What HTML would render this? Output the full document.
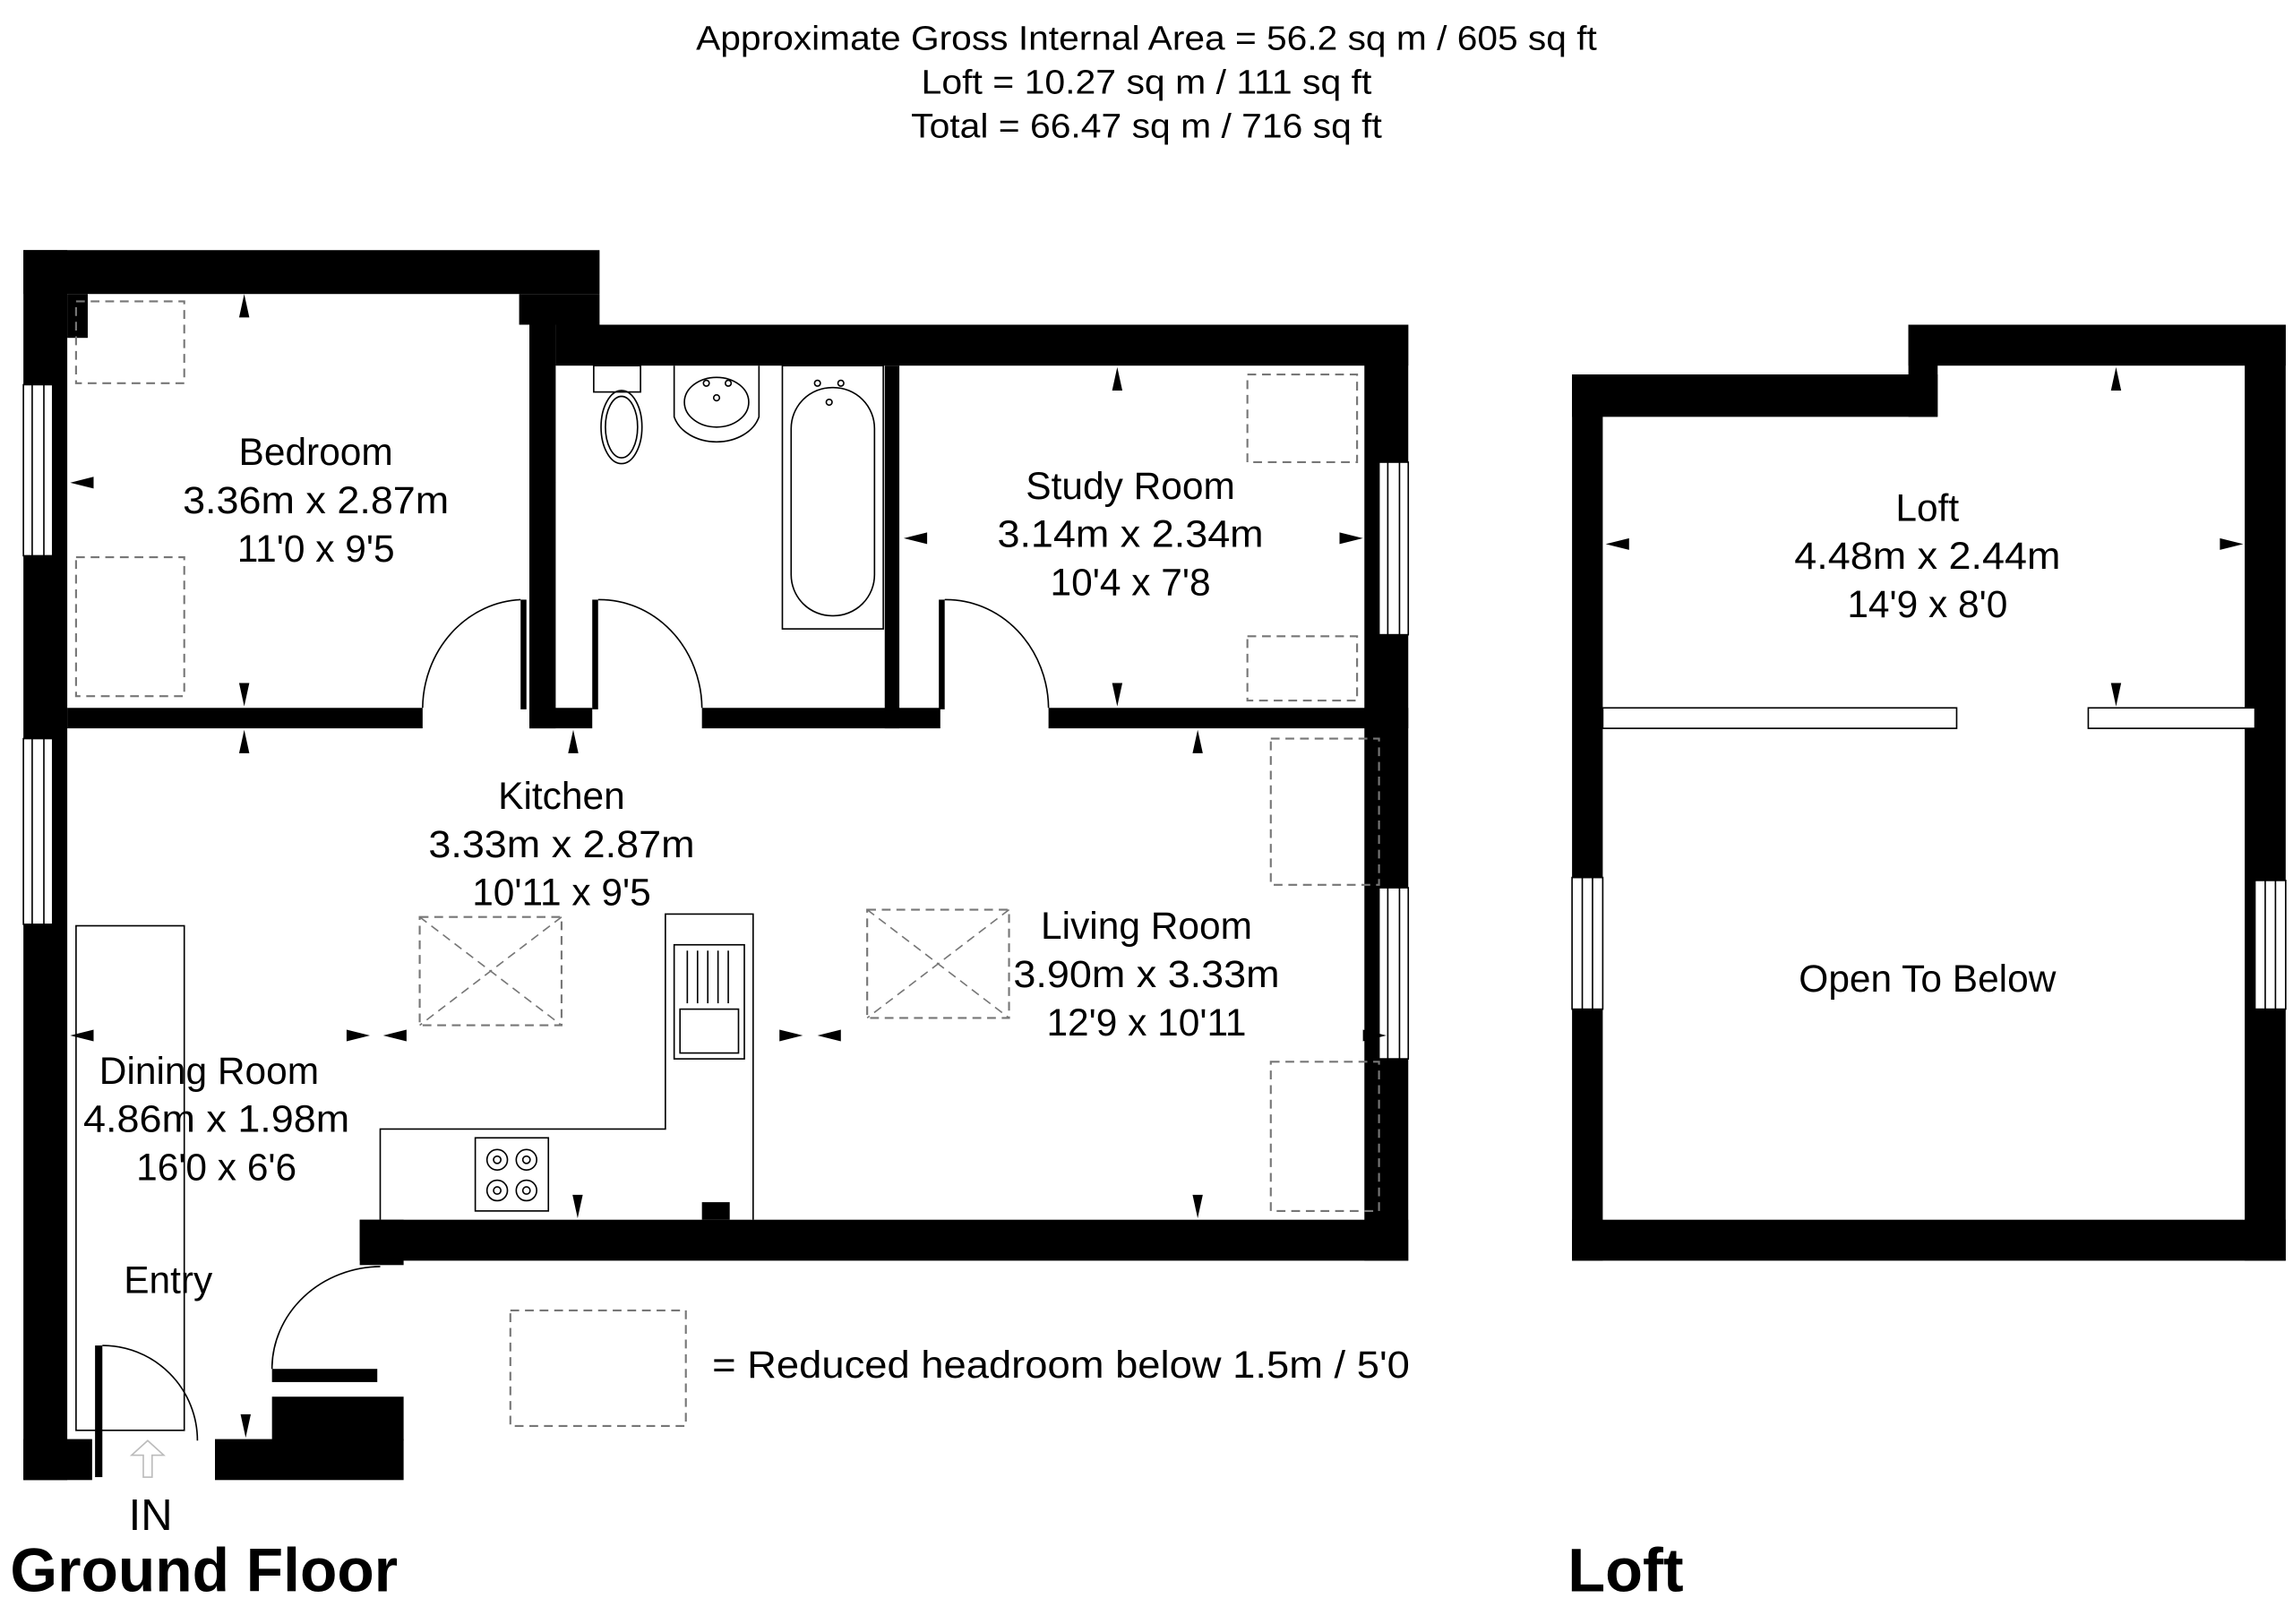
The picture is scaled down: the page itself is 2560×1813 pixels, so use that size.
<!DOCTYPE html>
<html><head><meta charset="utf-8"><style>
html,body{margin:0;padding:0;background:#fff;}
svg{display:block;}
text{font-family:"Liberation Sans",Arial,sans-serif;fill:#000;}
</style></head><body>
<svg width="2560" height="1813" viewBox="0 0 1568 1110.4" xmlns="http://www.w3.org/2000/svg">
<rect width="1568" height="1111" fill="#fff"/>
<g font-size="23.5" text-anchor="middle">
<text x="784" y="34" textLength="616" lengthAdjust="spacingAndGlyphs">Approximate Gross Internal Area = 56.2 sq m / 605 sq ft</text>
<text x="784" y="64" textLength="308" lengthAdjust="spacingAndGlyphs">Loft = 10.27 sq m / 111 sq ft</text>
<text x="784" y="94" textLength="322" lengthAdjust="spacingAndGlyphs">Total = 66.47 sq m / 716 sq ft</text>
</g>
<g fill="#000">
<rect x="16" y="171" width="394" height="30"/>
<rect x="16" y="171" width="30" height="841"/>
<rect x="46" y="201" width="14" height="30"/>
<rect x="355" y="201" width="55" height="21"/>
<rect x="380" y="222" width="583" height="28"/>
<rect x="933" y="222" width="30" height="640"/>
<rect x="362" y="222" width="18" height="276"/>
<rect x="362" y="484" width="43" height="14"/>
<rect x="605" y="250" width="10" height="248"/>
<rect x="46" y="484" width="243" height="14"/>
<rect x="480" y="484" width="163" height="14"/>
<rect x="717" y="484" width="246" height="14"/>
<rect x="246" y="834" width="717" height="28"/>
<rect x="246" y="834" width="30" height="31"/>
<rect x="16" y="984" width="47" height="28"/>
<rect x="147" y="984" width="129" height="28"/>
<rect x="186" y="955" width="90" height="30"/>
<rect x="186" y="936" width="72" height="9"/>
<rect x="65" y="920" width="5" height="90"/>
<rect x="480" y="822" width="19" height="12"/>
</g>
<g fill="#000"><rect x="356" y="410" width="4" height="75"/><rect x="405" y="410" width="4" height="75"/><rect x="642" y="410" width="4" height="75"/></g>
<g fill="#fff" stroke="#000" stroke-width="1">
<rect x="16" y="263" width="20" height="117"/><line x1="22" y1="263" x2="22" y2="380"/><line x1="30" y1="263" x2="30" y2="380"/>
<rect x="16" y="505" width="20" height="127"/><line x1="22" y1="505" x2="22" y2="632"/><line x1="30" y1="505" x2="30" y2="632"/>
<rect x="943" y="316" width="20" height="118"/><line x1="949" y1="316" x2="949" y2="434"/><line x1="957" y1="316" x2="957" y2="434"/>
<rect x="943" y="607" width="20" height="117"/><line x1="949" y1="607" x2="949" y2="724"/><line x1="957" y1="607" x2="957" y2="724"/>
</g>
<g fill="none" stroke="#000" stroke-width="1">
<path d="M289 484 A70 75 0 0 1 356 410"/>
<path d="M480 484 A70 75 0 0 0 409 410"/>
<path d="M717 484 A70 75 0 0 0 646 410"/>
<path d="M70 920 A65 65 0 0 1 135 985"/>
<path d="M186 936 A75 70 0 0 1 260 866"/>
</g>
<g fill="none" stroke="#000" stroke-width="1">
<rect x="406" y="250" width="32" height="18"/>
<ellipse cx="425" cy="292" rx="14" ry="25"/><ellipse cx="425" cy="292" rx="11" ry="21"/>
<path d="M461 250 V285 A30 23 0 0 0 519 285 V250"/><ellipse cx="490" cy="275" rx="22" ry="17"/>
<circle cx="483" cy="262" r="2"/><circle cx="498" cy="262" r="2"/><circle cx="490" cy="272" r="2"/>
<rect x="535" y="250" width="69" height="180"/><rect x="541" y="265" width="57" height="156" rx="28"/>
<circle cx="559" cy="262" r="2"/><circle cx="575" cy="262" r="2"/><circle cx="567" cy="275" r="2"/>
</g>
<g fill="none" stroke="#000" stroke-width="1">
<rect x="52" y="633" width="74" height="345"/>
<path d="M260 834 V772 H455 V625 H515 V834"/>
<rect x="461" y="646" width="48" height="78"/><rect x="465" y="690" width="40" height="30"/>
<line x1="470" y1="650" x2="470" y2="686"/><line x1="477" y1="650" x2="477" y2="686"/><line x1="484" y1="650" x2="484" y2="686"/><line x1="491" y1="650" x2="491" y2="686"/><line x1="498" y1="650" x2="498" y2="686"/>
<rect x="325" y="778" width="50" height="50"/>
<circle cx="340" cy="793" r="7"/><circle cx="360" cy="793" r="7"/><circle cx="340" cy="814" r="7"/><circle cx="360" cy="814" r="7"/>
<circle cx="340" cy="793" r="2.5"/><circle cx="360" cy="793" r="2.5"/><circle cx="340" cy="814" r="2.5"/><circle cx="360" cy="814" r="2.5"/>
</g>
<g fill="none" stroke="#777" stroke-width="1.3" stroke-dasharray="6,4">
<rect x="52" y="206" width="74" height="56"/>
<rect x="52" y="381" width="74" height="95"/>
<rect x="853" y="256" width="75" height="60"/>
<rect x="853" y="435" width="75" height="44"/>
<rect x="869" y="505" width="74" height="100"/>
<rect x="869" y="726" width="74" height="102"/>
<rect x="287" y="627" width="97" height="74"/>
<rect x="593" y="622" width="97" height="74"/>
<rect x="349" y="896" width="120" height="79"/>
</g>
<g stroke="#777" stroke-width="1" stroke-dasharray="6,4">
<line x1="287" y1="627" x2="384" y2="701"/><line x1="384" y1="627" x2="287" y2="701"/>
<line x1="593" y1="622" x2="690" y2="696"/><line x1="690" y1="622" x2="593" y2="696"/>
</g>
<g fill="#000">
<path d="M167 201 l-3.5 16 h7z"/><path d="M167 483 l-3.5 -16 h7z"/>
<path d="M48 330 l16 -4 v8z"/><path d="M380 330 l-16 -4 v8z"/>
<path d="M167 499 l-3.5 16 h7z"/><path d="M392 499 l-3.5 16 h7z"/>
<path d="M764 251 l-3.5 16 h7z"/><path d="M764 483 l-3.5 -16 h7z"/>
<path d="M618 368 l16 -4 v8z"/><path d="M932 368 l-16 -4 v8z"/>
<path d="M819 499 l-3.5 16 h7z"/><path d="M819 833 l-3.5 -16 h7z"/>
<path d="M395 833 l-3.5 -16 h7z"/>
<path d="M262 708 l16 -4 v8z"/><path d="M253 708 l-16 -4 v8z"/>
<path d="M559 708 l16 -4 v8z"/><path d="M549 708 l-16 -4 v8z"/>
<path d="M948 708 l-16 -4 v8z"/><path d="M48 708 l16 -4 v8z"/>
<path d="M168 983 l-3.5 -16 h7z"/>
</g>
<path d="M98 1010 V995 H90 L101 985 L112 995 H104 V1010Z" fill="none" stroke="#bbb" stroke-width="1"/>
<g font-size="26" text-anchor="middle">
<text x="216" y="318">Bedroom</text><text x="216" y="351" textLength="182" lengthAdjust="spacingAndGlyphs">3.36m x 2.87m</text><text x="216" y="384">11'0 x 9'5</text>
<text x="773" y="341">Study Room</text><text x="773" y="374" textLength="182" lengthAdjust="spacingAndGlyphs">3.14m x 2.34m</text><text x="773" y="407">10'4 x 7'8</text>
<text x="384" y="553">Kitchen</text><text x="384" y="586" textLength="182" lengthAdjust="spacingAndGlyphs">3.33m x 2.87m</text><text x="384" y="619">10'11 x 9'5</text>
<text x="784" y="642">Living Room</text><text x="784" y="675" textLength="182" lengthAdjust="spacingAndGlyphs">3.90m x 3.33m</text><text x="784" y="708">12'9 x 10'11</text>
<text x="143" y="741">Dining Room</text><text x="148" y="774" textLength="182" lengthAdjust="spacingAndGlyphs">4.86m x 1.98m</text><text x="148" y="807">16'0 x 6'6</text>
<text x="115" y="884">Entry</text>
<text x="103" y="1046" font-size="30">IN</text>
<text x="1318" y="356">Loft</text><text x="1318" y="389" textLength="182" lengthAdjust="spacingAndGlyphs">4.48m x 2.44m</text><text x="1318" y="422">14'9 x 8'0</text>
<text x="1318" y="678">Open To Below</text>
</g>
<text x="487" y="942" font-size="26" textLength="477" lengthAdjust="spacingAndGlyphs">= Reduced headroom below 1.5m / 5'0</text>
<text x="7" y="1088" font-size="42" font-weight="bold" textLength="265" lengthAdjust="spacingAndGlyphs">Ground Floor</text>
<text x="1072" y="1088" font-size="42" font-weight="bold">Loft</text>
<g fill="#000">
<rect x="1075" y="256" width="250" height="29"/>
<rect x="1305" y="222" width="20" height="63"/>
<rect x="1305" y="222" width="258" height="28"/>
<rect x="1535" y="222" width="28" height="640"/>
<rect x="1075" y="834" width="488" height="28"/>
<rect x="1075" y="256" width="21" height="606"/>
</g>
<g fill="#fff" stroke="#000" stroke-width="1">
<rect x="1075" y="600" width="21" height="90"/><line x1="1082" y1="600" x2="1082" y2="690"/><line x1="1089" y1="600" x2="1089" y2="690"/>
<rect x="1542" y="602" width="21" height="88"/><line x1="1549" y1="602" x2="1549" y2="690"/><line x1="1556" y1="602" x2="1556" y2="690"/>
<rect x="1096" y="484" width="242" height="14"/>
<rect x="1428" y="484" width="114" height="14"/>
</g>
<g fill="#000">
<path d="M1447 251 l-3.5 16 h7z"/><path d="M1447 483 l-3.5 -16 h7z"/>
<path d="M1098 372 l16 -4 v8z"/><path d="M1534 372 l-16 -4 v8z"/>
</g>
</svg>
</body></html>
